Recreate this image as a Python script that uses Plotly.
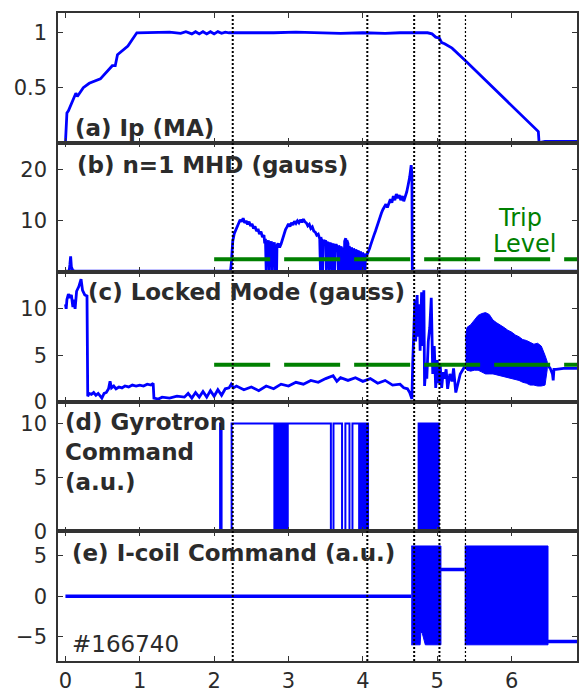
import plotly.graph_objects as go
from plotly.subplots import make_subplots

# ---------------- data ----------------
# (a) plasma current Ip (MA)
ip_t = [0.00, 0.02, 0.04, 0.08, 0.11, 0.14, 0.16, 0.20, 0.24, 0.32, 0.47, 0.63, 0.67,
        0.70, 0.84, 0.96, 1.05, 1.20, 1.40, 1.55, 1.62, 1.70, 1.75, 1.80, 1.85, 1.90,
        1.95, 2.00, 2.05, 2.10, 2.15, 2.20, 2.30, 2.50, 2.80, 3.10, 3.40, 3.70, 4.00,
        4.30, 4.50, 4.70, 4.80, 4.87, 4.93, 4.98, 5.03, 5.06, 5.10, 5.15, 5.20, 5.38,
        5.60, 5.80, 6.00, 6.20, 6.36, 6.37, 6.45, 6.88]
ip_v = [0.00, 0.27, 0.29, 0.36, 0.41, 0.45, 0.42, 0.46, 0.50, 0.54, 0.58, 0.70, 0.70,
        0.80, 0.88, 1.00, 1.00, 1.00, 1.005, 0.995, 1.01, 0.99, 1.01, 0.99, 1.01, 0.99,
        1.01, 0.99, 1.01, 0.995, 1.005, 1.00, 1.00, 0.995, 1.00, 1.005, 1.00, 0.995, 1.00,
        0.995, 1.00, 1.00, 1.005, 1.00, 0.99, 0.96, 0.95, 0.91, 0.90, 0.88, 0.86, 0.745,
        0.60, 0.47, 0.34, 0.21, 0.10, 0.00, 0.01, 0.01]

# (b) n=1 MHD amplitude (gauss)
mhd_t = [0.00, 0.05, 0.06, 0.07, 0.08, 0.10, 0.13, 2.22, 2.23, 2.24, 2.25, 2.27, 2.29,
         2.31, 2.33, 2.35, 2.37, 2.39, 2.41, 2.43, 2.45, 2.47, 2.49, 2.51, 2.53, 2.55,
         2.57, 2.59, 2.61, 2.63, 2.65, 2.67, 2.68, 2.69, 2.70, 2.705, 2.72, 2.73, 2.74,
         2.745, 2.76, 2.77, 2.78, 2.785, 2.80, 2.81, 2.82, 2.825, 2.84, 2.845, 2.86, 2.88,
         2.90, 2.92, 2.94, 2.96, 2.98, 3.00, 3.02, 3.04, 3.06, 3.08, 3.10, 3.12, 3.14,
         3.16, 3.18, 3.20, 3.22, 3.24, 3.26, 3.28, 3.30, 3.32, 3.34, 3.36, 3.38, 3.40,
         3.42, 3.43, 3.435, 3.45, 3.46, 3.465, 3.48, 3.50, 3.51, 3.515, 3.53, 3.55, 3.555,
         3.57, 3.59, 3.595, 3.61, 3.62, 3.625, 3.64, 3.66, 3.67, 3.675, 3.69, 3.70, 3.705,
         3.72, 3.73, 3.735, 3.75, 3.755, 3.77, 3.78, 3.785, 3.80, 3.81, 3.815, 3.83, 3.84,
         3.845, 3.86, 3.87, 3.875, 3.89, 3.90, 3.905, 3.92, 3.93, 3.935, 3.95, 3.96, 3.965,
         3.98, 3.99, 3.995, 4.01, 4.03, 4.035, 4.05, 4.07, 4.09, 4.11, 4.13, 4.15, 4.17,
         4.19, 4.21, 4.23, 4.25, 4.27, 4.29, 4.31, 4.33, 4.35, 4.37, 4.39, 4.41, 4.43,
         4.45, 4.47, 4.49, 4.51, 4.53, 4.55, 4.57, 4.59, 4.61, 4.63, 4.65, 4.66, 4.665,
         6.88]
mhd_v = [0.2, 0.2, 1.5, 3.1, 1.0, 0.3, 0.2, 0.2, 1.5, 4.5, 6.0, 7.5, 8.2,
         9.0, 9.6, 10.2, 9.8, 10.5, 9.6, 10.0, 9.3, 9.8, 9.0, 9.4, 8.5, 8.9,
         8.0, 8.4, 7.4, 7.9, 6.8, 7.2, 5.6, 6.5, 0.3, 6.0, 5.2, 6.2, 0.3,
         5.8, 5.4, 6.0, 0.3, 5.6, 5.0, 5.8, 0.3, 5.4, 0.3, 5.2, 5.6, 4.8,
         5.5, 6.5, 7.5, 8.3, 8.8, 9.4, 8.9, 9.6, 9.2, 9.9, 9.5, 10.0, 9.6,
         10.2, 9.7, 10.3, 9.8, 9.6, 9.0, 9.3, 8.5, 8.8, 8.0, 7.8, 7.2, 7.4,
         6.5, 0.3, 6.8, 6.0, 0.3, 6.3, 5.8, 6.2, 0.3, 5.6, 5.9, 0.3, 5.4,
         5.7, 0.3, 5.2, 5.5, 0.3, 5.0, 5.4, 4.8, 0.3, 5.2, 4.6, 0.3, 5.0,
         4.5, 0.3, 4.8, 0.3, 6.0, 6.6, 0.3, 6.2, 5.6, 0.3, 5.0, 4.6, 0.3,
         4.8, 4.2, 0.3, 4.6, 4.0, 0.3, 4.4, 3.9, 0.3, 4.2, 3.8, 0.3, 4.0,
         3.6, 0.3, 3.8, 3.4, 0.3, 3.6, 3.2, 3.8, 4.6, 5.5, 6.2, 7.2, 8.0,
         9.0, 10.0, 10.8, 11.5, 12.2, 12.8, 13.2, 12.6, 13.6, 14.2, 13.5, 14.8, 14.0,
         15.2, 14.4, 15.0, 14.0, 14.8, 13.8, 14.6, 15.6, 17.0, 18.5, 20.8, 19.0, 0.2,
         0.2]
mhd_trip_t = [2.0, 6.88]
mhd_trip_v = [2.5, 2.5]

# (c) locked mode amplitude (gauss)
lm_t = [0.00, 0.01, 0.02, 0.04, 0.06, 0.08, 0.10, 0.11, 0.13, 0.15, 0.18, 0.21, 0.23,
        0.26, 0.29, 0.30, 0.32, 0.35, 0.38, 0.41, 0.44, 0.47, 0.49, 0.52, 0.55, 0.58,
        0.60, 0.62, 0.65, 0.68, 0.72, 0.76, 0.80, 0.85, 0.90, 0.95, 1.00, 1.05, 1.10,
        1.15, 1.18, 1.19, 1.25, 1.30, 1.40, 1.50, 1.60, 1.65, 1.70, 1.75, 1.80, 1.85,
        1.90, 1.95, 2.00, 2.05, 2.10, 2.15, 2.20, 2.23, 2.26, 2.30, 2.40, 2.50, 2.60,
        2.70, 2.80, 2.90, 3.00, 3.10, 3.20, 3.30, 3.40, 3.50, 3.60, 3.65, 3.70, 3.80,
        3.90, 4.00, 4.10, 4.20, 4.30, 4.40, 4.50, 4.55, 4.60, 4.63, 4.66, 4.67, 4.68,
        4.70, 4.71, 4.73, 4.74, 4.76, 4.77, 4.79, 4.80, 4.82, 4.83, 4.85, 4.86, 4.88,
        4.90, 4.92, 4.94, 4.96, 4.98, 5.00, 5.02, 5.04, 5.06, 5.08, 5.10, 5.12, 5.14,
        5.17, 5.20, 5.22, 5.25, 5.28, 5.31, 5.34, 5.37]
lm_v = [10.5, 10.0, 11.0, 11.6, 11.2, 11.5, 10.2, 11.0, 10.0, 11.9, 12.4, 13.2, 12.0,
        11.5, 11.4, 0.6, 0.9, 0.8, 1.0, 0.7, 0.9, 0.6, 0.4, 0.9, 1.0, 1.4,
        2.2, 1.5, 1.7, 1.4, 1.6, 1.5, 1.7, 1.6, 1.8, 1.7, 1.8, 1.7, 1.9,
        1.8, 2.0, 0.4, 0.3, 0.5, 0.4, 0.6, 0.5, 0.9, 0.4, 1.0, 0.5, 1.1,
        0.5, 1.2, 0.6, 1.3, 0.7, 1.4, 1.5, 1.9, 1.5, 1.7, 1.3, 1.6, 1.2,
        1.7, 1.4, 1.9, 1.7, 2.1, 1.9, 2.3, 2.1, 2.5, 2.8, 2.2, 2.6, 2.3,
        2.6, 2.2, 2.5, 2.0, 2.3, 1.8, 1.9, 1.5, 1.4, 1.0, 0.3, 4.0, 7.5,
        11.0, 6.5, 11.5, 7.0, 10.5, 5.5, 11.8, 6.0, 12.0, 1.7, 4.0, 2.5, 6.5,
        8.0, 11.2, 3.0, 6.0, 1.5, 4.5, 2.0, 4.0, 1.5, 3.2, 2.5, 3.5, 1.4,
        3.0, 2.2, 3.6, 1.0, 2.0, 3.0, 3.4, 3.8]
lm_band_t = [5.38, 5.40, 5.45, 5.50, 5.55, 5.60, 5.65, 5.70, 5.75, 5.80, 5.85, 5.90,
             5.95, 6.00, 6.05, 6.10, 6.15, 6.20, 6.25, 6.30, 6.35, 6.40, 6.45, 6.48]
lm_band_hi = [6.8, 8.0, 8.3, 8.8, 9.3, 9.5, 9.6, 9.4, 8.8, 8.5, 8.2, 8.0,
              7.7, 7.5, 7.2, 7.0, 6.7, 6.6, 6.4, 6.2, 6.3, 6.0, 5.0, 4.3]
lm_band_lo = [3.6, 3.4, 3.3, 3.4, 3.4, 3.2, 3.0, 3.0, 3.0, 2.9, 2.8, 2.7,
              2.6, 2.5, 2.4, 2.3, 2.1, 2.0, 1.8, 1.8, 1.7, 1.7, 1.8, 3.5]
lm_tail_t = [6.48, 6.52, 6.55, 6.56, 6.57, 6.60, 6.70, 6.88]
lm_tail_v = [4.0, 3.6, 3.0, 2.3, 3.5, 3.5, 3.6, 3.6]
lm_trip_t = [2.0, 6.88]
lm_trip_v = [4.0, 4.0]

# (d) gyrotron command (a.u.), step signal
gyro_t = [0.00, 2.08, 2.10, 2.235, 2.81, 2.82, 2.835, 2.85, 2.86, 2.87, 2.88, 2.89,
          2.90, 2.91, 2.92, 2.93, 2.94, 2.95, 2.96, 2.97, 2.98, 2.99, 3.57, 3.605,
          3.72, 3.765, 3.82, 3.86, 3.95, 3.96, 3.97, 3.98, 3.99, 4.00, 4.01, 4.02,
          4.03, 4.04, 4.05, 4.06, 4.07, 4.085, 4.75, 4.76, 4.77, 4.78, 4.79, 4.80,
          4.81, 4.82, 4.83, 4.845, 4.86, 4.87, 4.88, 4.89, 4.90, 4.91, 4.92, 4.93,
          4.94, 4.95, 4.96, 4.97, 4.98, 4.99, 5.00, 5.01, 5.02, 5.035, 6.88]
gyro_v = [0, 10, 0, 10, 0, 10, 0, 10, 0, 10, 0, 10,
          0, 10, 0, 10, 0, 10, 0, 10, 0, 10, 0, 10,
          0, 10, 0, 10, 0, 10, 0, 10, 0, 10, 0, 10,
          0, 10, 0, 10, 0, 10, 10, 10, 0, 10, 0, 10,
          0, 10, 0, 10, 0, 10, 0, 10, 0, 10, 0, 10,
          0, 10, 0, 10, 0, 10, 0, 10, 0, 0, 0]
gyro_v[41] = 0   # off after the dense burst near 4.08 s

# (e) I-coil command (a.u.)
icoil_t = [0.00, 4.65]
icoil_v = [0.0, 0.0]
icoil_b1_t = [4.65, 4.77, 4.78, 4.80, 4.84, 5.05]
icoil_b1_hi = [6.2, 6.2, 6.2, 6.2, 6.2, 6.2]
icoil_b1_lo = [-6.0, -6.0, -4.4, -4.6, -6.0, -6.0]
icoil_mid_t = [5.05, 5.37]
icoil_mid_v = [3.3, 3.3]
icoil_b2_t = [5.37, 6.49]
icoil_b2_hi = [6.2, 6.2]
icoil_b2_lo = [-6.0, -6.0]
icoil_tail_t = [6.49, 6.88]
icoil_tail_v = [-5.6, -5.6]

# event times (vertical dotted markers)
event_t = [2.25, 4.06, 4.69, 5.03, 5.38]
event_w = [2, 2, 2, 2, 1.2]

x_ticks = [0, 1, 2, 3, 4, 5, 6]
y_ticks = [[0.5, 1], [10, 20], [0, 5, 10], [0, 5, 10], [-5, 0, 5]]
y_ranges = [[0, 1.18], [0, 25.2], [0, 13.95], [0, 12.0], [-8.0, 8.0]]

titles = ["(a) Ip (MA)", "(b) n=1 MHD (gauss)", "(c) Locked Mode (gauss)",
          "(d) Gyrotron<br>Command<br>(a.u.)", "(e) I-coil Command (a.u.)"]

# ---------------- figure ----------------
BLUE = "#0000ff"
GREEN = "#008000"
AX = "#333333"
TXT = "#2b2b2b"
FONT = "DejaVu Sans"

fig = make_subplots(rows=5, cols=1, shared_xaxes=True, vertical_spacing=0)


def band(t, hi, lo):
    return go.Scatter(x=list(t) + list(t)[::-1], y=list(hi) + list(lo)[::-1],
                      mode="lines", fill="toself", fillcolor=BLUE,
                      line=dict(color=BLUE, width=1), hoverinfo="skip")


lw = 2.8
fig.add_trace(go.Scatter(x=ip_t, y=ip_v, mode="lines", line=dict(color=BLUE, width=lw)), 1, 1)

fig.add_trace(go.Scatter(x=mhd_t, y=mhd_v, mode="lines", line=dict(color=BLUE, width=lw)), 2, 1)
fig.add_trace(go.Scatter(x=mhd_trip_t, y=mhd_trip_v, mode="lines",
                         line=dict(color=GREEN, width=4, dash="56px,14px")), 2, 1)

fig.add_trace(go.Scatter(x=lm_t, y=lm_v, mode="lines", line=dict(color=BLUE, width=lw)), 3, 1)
fig.add_trace(band(lm_band_t, lm_band_hi, lm_band_lo), 3, 1)
fig.add_trace(go.Scatter(x=lm_tail_t, y=lm_tail_v, mode="lines", line=dict(color=BLUE, width=lw)), 3, 1)
fig.add_trace(go.Scatter(x=lm_trip_t, y=lm_trip_v, mode="lines",
                         line=dict(color=GREEN, width=4, dash="56px,14px")), 3, 1)

fig.add_trace(go.Scatter(x=gyro_t, y=gyro_v, mode="lines", line_shape="hv",
                         line=dict(color=BLUE, width=2)), 4, 1)

fig.add_trace(go.Scatter(x=icoil_t, y=icoil_v, mode="lines", line=dict(color=BLUE, width=3.5)), 5, 1)
fig.add_trace(band(icoil_b1_t, icoil_b1_hi, icoil_b1_lo), 5, 1)
fig.add_trace(go.Scatter(x=icoil_mid_t, y=icoil_mid_v, mode="lines", line=dict(color=BLUE, width=3.5)), 5, 1)
fig.add_trace(band(icoil_b2_t, icoil_b2_hi, icoil_b2_lo), 5, 1)
fig.add_trace(go.Scatter(x=icoil_tail_t, y=icoil_tail_v, mode="lines", line=dict(color=BLUE, width=3.5)), 5, 1)

# domains: equal stacked panels
for i in range(5):
    top = 1 - i / 5
    bot = 1 - (i + 1) / 5
    fig.update_yaxes(domain=[bot, top], range=y_ranges[i], tickvals=y_ticks[i],
                     ticks="inside", ticklen=5, tickwidth=1.2, tickcolor=AX,
                     showline=True, linecolor=AX, linewidth=1.5, mirror="ticks",
                     showgrid=False, zeroline=False, ticklabelstandoff=5,
                     tickfont=dict(family=FONT, size=21, color=TXT),
                     row=i + 1, col=1)
    fig.update_xaxes(range=[-0.1, 6.88], tickvals=x_ticks,
                     ticks="inside", ticklen=5, tickwidth=1.2, tickcolor=AX,
                     showline=True, linecolor=AX, linewidth=1.5, mirror="ticks",
                     showgrid=False, zeroline=False, showticklabels=(i == 4),
                     tickfont=dict(family=FONT, size=21, color=TXT),
                     row=i + 1, col=1)

# vertical dotted event lines
for t, w in zip(event_t, event_w):
    fig.add_shape(type="line", xref="x", yref="paper", x0=t, x1=t, y0=0, y1=1,
                  line=dict(color="black", width=w, dash="2px,2px"))

# panel labels
label_pos = [(0.10, 0.115), (0.13, 0.83), (0.28, 0.846), (-0.03, 0.615), (0.065, 0.83)]
for i, (txt, (lx, ly)) in enumerate(zip(titles, label_pos)):
    ax = "" if i == 0 else str(i + 1)
    fig.add_annotation(x=lx, y=ly, xref="x" + ax, yref="y" + ax + " domain",
                       text="<b>" + txt + "</b>", showarrow=False, align="left",
                       xanchor="left", yanchor="middle",
                       font=dict(family=FONT, size=23, color=TXT))

fig.add_annotation(x=0.067, y=0.13, xref="x5", yref="y5 domain", text="#166740",
                   showarrow=False, xanchor="left", yanchor="middle",
                   font=dict(family=FONT, size=23, color=TXT))
fig.add_annotation(x=6.12, y=0.42, xref="x2", yref="y2 domain", text="Trip",
                   showarrow=False, xanchor="center", yanchor="middle",
                   font=dict(family=FONT, size=24, color=GREEN))
fig.add_annotation(x=6.18, y=0.215, xref="x2", yref="y2 domain", text="Level",
                   showarrow=False, xanchor="center", yanchor="middle",
                   font=dict(family=FONT, size=24, color=GREEN))

fig.update_layout(width=579, height=693, showlegend=False,
                  margin=dict(l=58, r=0, t=13, b=29),
                  paper_bgcolor="white", plot_bgcolor="white")

fig.write_html("out.html")
